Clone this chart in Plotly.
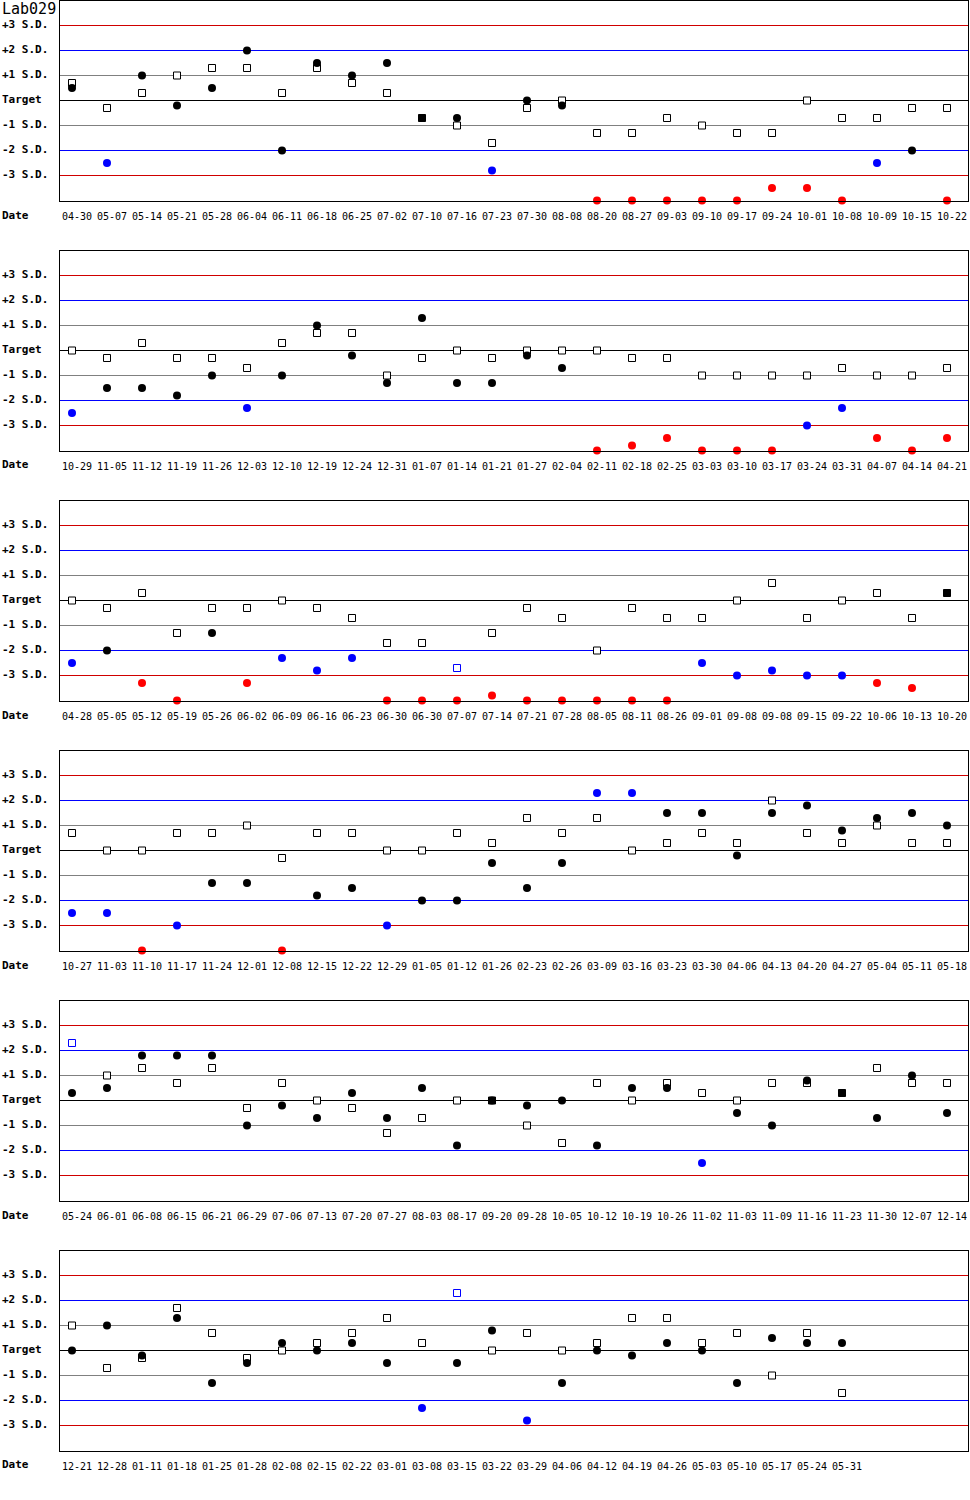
import plotly.graph_objects as go
from plotly.subplots import make_subplots

lab = "Lab029"
sd_labels = ["+3 S.D.", "+2 S.D.", "+1 S.D.", "Target", "-1 S.D.", "-2 S.D.", "-3 S.D."]
sd_levels = [3, 2, 1, 0, -1, -2, -3]

dates1 = ["04-30", "05-07", "05-14", "05-21", "05-28", "06-04", "06-11", "06-18", "06-25", "07-02",
          "07-10", "07-16", "07-23", "07-30", "08-08", "08-20", "08-27", "09-03", "09-10", "09-17",
          "09-24", "10-01", "10-08", "10-09", "10-15", "10-22"]
sq1 = [0.7, -0.3, 0.3, 1.0, 1.3, 1.3, 0.3, 1.3, 0.7, 0.3, -0.7, -1.0, -1.7, -0.3, 0.0, -1.3, -1.3,
       -0.7, -1.0, -1.3, -1.3, 0.0, -0.7, -0.7, -0.3, -0.3]
ci1 = [0.5, -2.5, 1.0, -0.2, 0.5, 2.0, -2.0, 1.5, 1.0, 1.5, -0.7, -0.7, -2.8, 0.0, -0.2, -4, -4,
       -4, -4, -4, -3.5, -3.5, -4, -2.5, -2.0, -4]

dates2 = ["10-29", "11-05", "11-12", "11-19", "11-26", "12-03", "12-10", "12-19", "12-24", "12-31",
          "01-07", "01-14", "01-21", "01-27", "02-04", "02-11", "02-18", "02-25", "03-03", "03-10",
          "03-17", "03-24", "03-31", "04-07", "04-14", "04-21"]
sq2 = [0.0, -0.3, 0.3, -0.3, -0.3, -0.7, 0.3, 0.7, 0.7, -1.0, -0.3, 0.0, -0.3, 0.0, 0.0, 0.0, -0.3,
       -0.3, -1.0, -1.0, -1.0, -1.0, -0.7, -1.0, -1.0, -0.7]
ci2 = [-2.5, -1.5, -1.5, -1.8, -1.0, -2.3, -1.0, 1.0, -0.2, -1.3, 1.3, -1.3, -1.3, -0.2, -0.7, -4,
       -3.8, -3.5, -4, -4, -4, -3.0, -2.3, -3.5, -4, -3.5]

dates3 = ["04-28", "05-05", "05-12", "05-19", "05-26", "06-02", "06-09", "06-16", "06-23", "06-30",
          "06-30", "07-07", "07-14", "07-21", "07-28", "08-05", "08-11", "08-26", "09-01", "09-08",
          "09-08", "09-15", "09-22", "10-06", "10-13", "10-20"]
sq3 = [0.0, -0.3, 0.3, -1.3, -0.3, -0.3, 0.0, -0.3, -0.7, -1.7, -1.7, -2.7, -1.3, -0.3, -0.7, -2.0,
       -0.3, -0.7, -0.7, 0.0, 0.7, -0.7, 0.0, 0.3, -0.7, 0.3]
ci3 = [-2.5, -2.0, -3.3, -4, -1.3, -3.3, -2.3, -2.8, -2.3, -4, -4, -4, -3.8, -4, -4, -4, -4, -4,
       -2.5, -3.0, -2.8, -3.0, -3.0, -3.3, -3.5, 0.3]

dates4 = ["10-27", "11-03", "11-10", "11-17", "11-24", "12-01", "12-08", "12-15", "12-22", "12-29",
          "01-05", "01-12", "01-26", "02-23", "02-26", "03-09", "03-16", "03-23", "03-30", "04-06",
          "04-13", "04-20", "04-27", "05-04", "05-11", "05-18"]
sq4 = [0.7, 0.0, 0.0, 0.7, 0.7, 1.0, -0.3, 0.7, 0.7, 0.0, 0.0, 0.7, 0.3, 1.3, 0.7, 1.3, 0.0, 0.3,
       0.7, 0.3, 2.0, 0.7, 0.3, 1.0, 0.3, 0.3]
ci4 = [-2.5, -2.5, -4, -3.0, -1.3, -1.3, -4, -1.8, -1.5, -3.0, -2.0, -2.0, -0.5, -1.5, -0.5, 2.3,
       2.3, 1.5, 1.5, -0.2, 1.5, 1.8, 0.8, 1.3, 1.5, 1.0]

dates5 = ["05-24", "06-01", "06-08", "06-15", "06-21", "06-29", "07-06", "07-13", "07-20", "07-27",
          "08-03", "08-17", "09-20", "09-28", "10-05", "10-12", "10-19", "10-26", "11-02", "11-03",
          "11-09", "11-16", "11-23", "11-30", "12-07", "12-14"]
sq5 = [2.3, 1.0, 1.3, 0.7, 1.3, -0.3, 0.7, 0.0, -0.3, -1.3, -0.7, 0.0, 0.0, -1.0, -1.7, 0.7, 0.0,
       0.7, 0.3, 0.0, 0.7, 0.7, 0.3, 1.3, 0.7, 0.7]
ci5 = [0.3, 0.5, 1.8, 1.8, 1.8, -1.0, -0.2, -0.7, 0.3, -0.7, 0.5, -1.8, 0.0, -0.2, 0.0, -1.8, 0.5,
       0.5, -2.5, -0.5, -1.0, 0.8, 0.3, -0.7, 1.0, -0.5]

dates6 = ["12-21", "12-28", "01-11", "01-18", "01-25", "01-28", "02-08", "02-15", "02-22", "03-01",
          "03-08", "03-15", "03-22", "03-29", "04-06", "04-12", "04-19", "04-26", "05-03", "05-10",
          "05-17", "05-24", "05-31"]
sq6 = [1.0, -0.7, -0.3, 1.7, 0.7, -0.3, 0.0, 0.3, 0.7, 1.3, 0.3, 2.3, 0.0, 0.7, 0.0, 0.3, 1.3, 1.3,
       0.3, 0.7, -1.0, 0.7, -1.7]
ci6 = [0.0, 1.0, -0.2, 1.3, -1.3, -0.5, 0.3, 0.0, 0.3, -0.5, -2.3, -0.5, 0.8, -2.8, -1.3, 0.0,
       -0.2, 0.3, 0.0, -1.3, 0.5, 0.3, 0.3]

panels = [(dates1, sq1, ci1), (dates2, sq2, ci2), (dates3, sq3, ci3),
          (dates4, sq4, ci4), (dates5, sq5, ci5), (dates6, sq6, ci6)]

MONO = "DejaVu Sans Mono"
line_colors = {3: "#d00000", 2: "#0000ff", 1: "#808080", 0: "#000000"}


def point_color(v):
    if abs(v) > 3:
        return "#ff0000"
    if abs(v) > 2:
        return "#0000ff"
    return "#000000"


W, H = 970, 1500
ML, MR, MT, MB = 60, 2, 1, 49
PH = H - MT - MB
fig = make_subplots(rows=6, cols=1, vertical_spacing=50 / PH)

label_x = -ML / (W - ML - MR)
for k, (dates, sq, ci) in enumerate(panels):
    row = k + 1
    xs = list(range(len(dates)))
    sq_fill = ["#000000" if s == c else "#ffffff" for s, c in zip(sq, ci)]
    sq_line = [point_color(s) for s in sq]
    fig.add_trace(go.Scatter(x=xs, y=sq, mode="markers", cliponaxis=False, showlegend=False,
                             hoverinfo="skip",
                             marker=dict(symbol="square", size=7, color=sq_fill,
                                         line=dict(color=sq_line, width=1))),
                  row=row, col=1)
    fig.add_trace(go.Scatter(x=xs, y=ci, mode="markers", cliponaxis=False, showlegend=False,
                             hoverinfo="skip",
                             marker=dict(symbol="circle", size=8,
                                         color=[point_color(c) for c in ci],
                                         line=dict(width=0))),
                  row=row, col=1)

    for lv in sd_levels:
        fig.add_hline(y=lv, line=dict(color=line_colors[abs(lv)], width=1),
                      layer="below", row=row, col=1)

    ax = "" if k == 0 else str(row)
    for txt, lv in zip(sd_labels, sd_levels):
        fig.add_annotation(x=label_x, xref="paper", y=lv, yref="y" + ax, text=txt,
                           showarrow=False, xanchor="left", yanchor="middle", yshift=1,
                           font=dict(family=MONO, size=11, color="black", weight="bold"))
    # "Date" label sits 15 px under the panel's bottom edge
    panel_bottom = 1 - (k * 250 + 200) / PH
    fig.add_annotation(x=label_x, xref="paper", y=panel_bottom - 15 / PH, yref="paper",
                       text="Date", showarrow=False, xanchor="left", yanchor="middle",
                       yshift=1,
                       font=dict(family=MONO, size=11, color="black", weight="bold"))

    fig.update_xaxes(range=[-0.343, 25.6], tickvals=xs, ticktext=dates, showgrid=False,
                     zeroline=False, showline=True, mirror=True, linecolor="black", linewidth=1,
                     ticks="", ticklabelstandoff=6, ticklabelshift=5, fixedrange=True,
                     tickfont=dict(family=MONO, size=10, color="black"), row=row, col=1)
    # half-pixel offset keeps the 1px limit lines crisp
    fig.update_yaxes(range=[-4.02, 3.98], showticklabels=False, showgrid=False, zeroline=False,
                     showline=True, mirror=True, linecolor="black", linewidth=1,
                     fixedrange=True, row=row, col=1)

fig.add_annotation(x=label_x, xref="paper", y=3.68, yref="y", text=lab, showarrow=False,
                   xanchor="left", yanchor="middle",
                   font=dict(family=MONO, size=15, color="black"))

fig.update_layout(width=W, height=H, margin=dict(l=ML, r=MR, t=MT, b=MB),
                  plot_bgcolor="white", paper_bgcolor="white", showlegend=False,
                  hovermode=False)

fig.write_html("out.html", config={"displayModeBar": False},
               post_script="document.body.style.margin='0';")
